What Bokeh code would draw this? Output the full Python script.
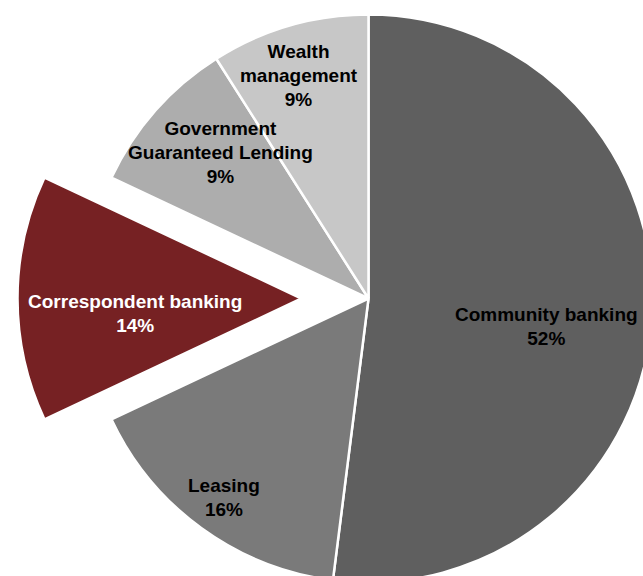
import math
from bokeh.plotting import figure
from bokeh.models import Range1d, ColumnDataSource
from bokeh.core.properties import value
from bokeh.embed import file_html
from bokeh.resources import INLINE

# ---- data ----
categories = ["Community banking", "Leasing", "Correspondent banking",
              "Government\nGuaranteed Lending", "Wealth\nmanagement"]
shares = [52, 16, 14, 9, 9]
colors = ["#5f5f5f", "#7a7a7a", "#762123", "#adadad", "#c7c7c7"]
text_colors = ["#000000", "#000000", "#ffffff", "#000000", "#000000"]
explode = [0, 0, 67, 0, 0]          # px
label_r = [180, 246, 167, 208, 234]  # px from slice centre
label_da = [5.4, 0.0, -5.2, 3.2, -1.2]  # deg offset from mid angle

W, H = 643, 576
cx, cy = 368, H - 298
R = 284

p = figure(width=W, height=H, x_range=Range1d(0, W), y_range=Range1d(0, H),
           output_backend="svg", toolbar_location=None, min_border=0,
           background_fill_color="white", border_fill_color="white")
p.axis.visible = False
p.grid.visible = False
p.outline_line_color = None

total = sum(shares)
xs, ys, starts, ends = [], [], [], []
lx, ly, labels = [], [], []
acc = 0.0
for i, (cat, v) in enumerate(zip(categories, shares)):
    t0 = acc / total * 2 * math.pi
    acc += v
    t1 = acc / total * 2 * math.pi
    tm = (t0 + t1) / 2
    ox = cx + explode[i] * math.sin(tm)
    oy = cy + explode[i] * math.cos(tm)
    xs.append(ox); ys.append(oy)
    starts.append(math.pi / 2 - t0)
    ends.append(math.pi / 2 - t1)
    ta = tm + math.radians(label_da[i])
    lx.append(ox + label_r[i] * math.sin(ta))
    ly.append(oy + label_r[i] * math.cos(ta))
    labels.append(f"{cat}\n{v}%")

src = ColumnDataSource(dict(x=xs, y=ys, s=starts, e=ends, c=colors))
p.wedge(x="x", y="y", radius=R, start_angle="s", end_angle="e",
        direction="clock", fill_color="c", line_color="white", line_width=2.5,
        source=src)

lsrc = ColumnDataSource(dict(x=lx, y=ly, t=labels, tc=text_colors))
p.text(x="x", y="y", text="t", text_color="tc", source=lsrc,
       text_font=value("Liberation Sans"), text_font_style="bold",
       text_font_size="19px", text_align="center", text_baseline="middle",
       text_line_height=1.15)

open("out.html", "w").write(file_html(p, INLINE))
